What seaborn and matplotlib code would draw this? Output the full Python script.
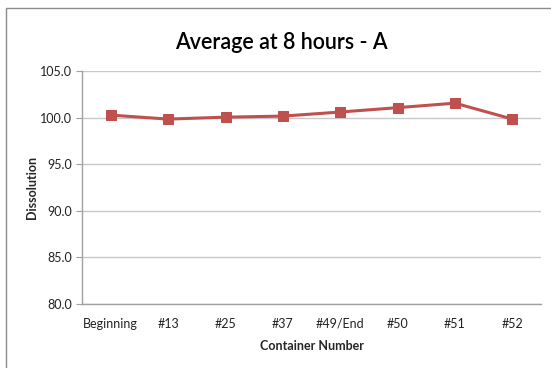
import matplotlib
matplotlib.use("Agg")
import matplotlib.pyplot as plt
import seaborn as sns
import pandas as pd
from matplotlib.patches import Rectangle

# data
containers = ["Beginning", "#13", "#25", "#37", "#49/End", "#50", "#51", "#52"]
dissolution = [100.27, 99.84, 100.05, 100.16, 100.6, 101.07, 101.55, 99.84]
y_ticks = [80.0, 85.0, 90.0, 95.0, 100.0, 105.0]

df = pd.DataFrame({"Container Number": containers, "Dissolution": dissolution})

sns.set_style("white")
plt.rcParams['font.family'] = ['Lato', 'DejaVu Sans']

fig = plt.figure(figsize=(5.51, 3.68), dpi=100)
ax = fig.add_axes([0.149, 0.174, 0.833, 0.633])

sns.lineplot(data=df, x="Container Number", y="Dissolution", ax=ax,
             color="#C0504D", linewidth=2.2, marker="s", markersize=7,
             markeredgecolor="#C0504D", sort=False)

ax.set_xlim(-0.5, len(containers) - 0.5)
ax.set_ylim(80, 105)
ax.set_yticks(y_ticks)
ax.set_yticklabels([f"{v:.1f}" for v in y_ticks], fontsize=9, color="#222222")
ax.set_xticks(range(len(containers)))
ax.set_xticklabels(containers, fontsize=9, color="#222222")
ax.tick_params(axis="x", which="major", length=0, pad=10)
ax.set_xticks([i - 0.5 for i in range(len(containers) + 1)], minor=True)
ax.tick_params(axis="x", which="minor", length=4, color="#A0A0A0", direction="out")
ax.tick_params(axis="y", length=4, color="#A0A0A0", direction="out", left=True, pad=3)

ax.yaxis.grid(True, color="#C8C8C8", linewidth=1)
ax.xaxis.grid(False)
for s in ["top", "right"]:
    ax.spines[s].set_visible(False)
for s in ["left", "bottom"]:
    ax.spines[s].set_color("#A0A0A0")
    ax.spines[s].set_linewidth(1)

ax.set_xlabel("Container Number", fontsize=9, fontweight="bold", labelpad=7)
ax.set_ylabel("Dissolution", fontsize=9, fontweight="bold", labelpad=2)

fig.text(0.51, 0.885, "Average at 8 hours - A", ha="center", va="center",
         fontsize=15.5, color="black", fontweight="semibold")

# chart frame, cut off on the right and bottom
fig.patches.append(Rectangle((0.011, -0.1), 1.2, 1.078, transform=fig.transFigure,
                             fill=False, edgecolor="#8C8C8C", linewidth=1))

fig.savefig("out.png", dpi=100)
